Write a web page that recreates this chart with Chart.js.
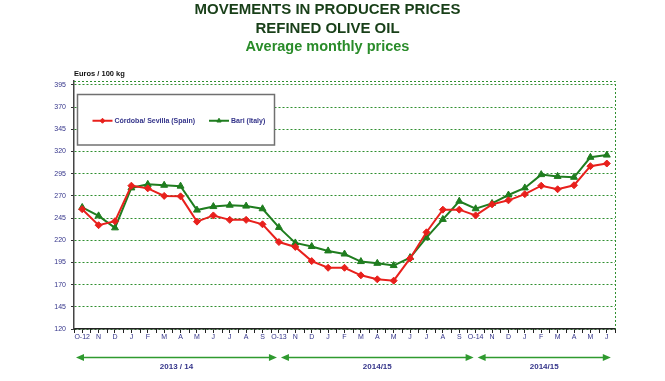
<!DOCTYPE html>
<html>
<head>
<meta charset="utf-8">
<script src="https://cdn.jsdelivr.net/npm/chart.js@4.4.0/dist/chart.umd.min.js"></script>
<style>
  html, body { margin: 0; padding: 0; background: #fff; }
  #wrap { width: 665px; height: 381px; position: relative; }
</style>
</head>
<body>
<div id="wrap"><canvas id="chart"></canvas></div>
<script>
'use strict';

// month labels, Oct 2012 .. Jun 2015
const months = ['O-12', 'N', 'D', 'J', 'F', 'M', 'A', 'M', 'J', 'J', 'A', 'S',
    'O-13', 'N', 'D', 'J', 'F', 'M', 'A', 'M', 'J', 'J', 'A', 'S',
    'O-14', 'N', 'D', 'J', 'F', 'M', 'A', 'M', 'J'];

// Euros / 100 kg
const cordobaSevilla = [255, 237, 241.5, 281.5, 278.5, 270, 269.5, 241, 248, 243, 243, 238,
    218, 212.5, 196.5, 189, 189, 180.5, 176, 174.5, 199.5, 229, 254.5, 254.5,
    248, 260.5, 265, 272, 281.5, 277.5, 282, 303.5, 306.5];
const bari = [257, 247.5, 234, 279, 283, 282, 281, 254, 258, 259.5, 258.5, 255.5,
    234.5, 217, 213, 208, 204.5, 196, 194, 191.5, 200.5, 223, 243.5, 264,
    255.5, 261.5, 271, 279, 294, 292, 291, 313.5, 316];

const yTicks = [120, 145, 170, 195, 220, 245, 270, 295, 320, 345, 370, 395];

// marketing years shown under the axis (month index from / to)
const seasonLabels = ['2013 / 14', '2014/15', '2014/15'];
const seasonFrom = [0, 12, 24];
const seasonTo = [12, 24, 32];

const FONT = '"Liberation Sans", Arial, sans-serif';
const NAVY = '#34348a';
const GRID_GREEN = '#2f8f2f';
const ARROW_GREEN = '#2f9a2f';

// dashed top and right edge of the plot
const plotFrame = {
    id: 'plotFrame',
    beforeDatasetsDraw(chart) {
        const { ctx, chartArea: a } = chart;
        ctx.save();
        ctx.strokeStyle = GRID_GREEN;
        ctx.lineWidth = 1;
        ctx.setLineDash([2, 2]);
        ctx.beginPath();
        ctx.moveTo(a.left, a.top + 0.5);
        ctx.lineTo(a.right + 0.5, a.top + 0.5);
        ctx.lineTo(a.right + 0.5, a.bottom);
        ctx.stroke();
        ctx.restore();
    }
};

// half-step tick marks between months
const halfTicks = {
    id: 'halfTicks',
    afterDraw(chart) {
        const { ctx, chartArea: a } = chart;
        const x = chart.scales.x;
        ctx.save();
        ctx.strokeStyle = '#222';
        ctx.lineWidth = 1;
        for (let i = 0; i <= months.length; i++) {
            const px = Math.round(x.getPixelForValue(i - 0.5)) + 0.5;
            ctx.beginPath();
            ctx.moveTo(px, a.bottom);
            ctx.lineTo(px, a.bottom + 4);
            ctx.stroke();
        }
        ctx.restore();
    }
};

// boxed legend inside the plot
const legendBox = {
    id: 'legendBox',
    afterDatasetsDraw(chart) {
        const { ctx, chartArea: a } = chart;
        const bx = a.left + 3.5, by = a.top + 13.5, bw = 197, bh = 50.5;
        ctx.save();
        ctx.fillStyle = '#fff';
        ctx.fillRect(bx, by, bw, bh);
        ctx.strokeStyle = '#707070';
        ctx.lineWidth = 1.5;
        ctx.strokeRect(bx, by, bw, bh);

        ctx.font = 'bold 7px ' + FONT;
        ctx.textBaseline = 'middle';
        const cy = by + bh / 2 + 1;
        let cx = bx + 15;
        chart.data.datasets.forEach(ds => {
            ctx.strokeStyle = ds.borderColor;
            ctx.fillStyle = ds.backgroundColor;
            ctx.lineWidth = 2;
            ctx.beginPath();
            ctx.moveTo(cx, cy);
            ctx.lineTo(cx + 20, cy);
            ctx.stroke();
            ctx.lineWidth = 1;
            Chart.helpers.drawPoint(ctx, { pointStyle: ds.pointStyle, radius: 2.5, borderWidth: 1 }, cx + 10, cy);
            ctx.fillStyle = NAVY;
            ctx.fillText(ds.label, cx + 22, cy);
            cx += 22 + ctx.measureText(ds.label).width + 14;
        });
        ctx.restore();
    }
};

// unit label and season arrows
const extras = {
    id: 'extras',
    afterDraw(chart) {
        const { ctx, chartArea: a } = chart;
        const x = chart.scales.x;
        ctx.save();
        ctx.fillStyle = '#111';
        ctx.font = 'bold 7.5px ' + FONT;
        ctx.textBaseline = 'middle';
        ctx.fillText('Euros / 100 kg', a.left, a.top - 7.5);

        const ay = a.bottom + 28.5;
        seasonLabels.forEach((label, i) => {
            let x0 = x.getPixelForValue(seasonFrom[i]) + 2;
            let x1 = x.getPixelForValue(seasonTo[i]) - 2;
            if (i === 0) x0 = a.left + 2;
            if (i === seasonLabels.length - 1) x1 = Math.min(x1 + 6, a.right - 4);
            ctx.strokeStyle = ARROW_GREEN;
            ctx.fillStyle = ARROW_GREEN;
            ctx.lineWidth = 1.5;
            ctx.beginPath();
            ctx.moveTo(x0 + 4, ay);
            ctx.lineTo(x1 - 4, ay);
            ctx.stroke();
            ctx.beginPath();
            ctx.moveTo(x0, ay);
            ctx.lineTo(x0 + 8, ay - 3.5);
            ctx.lineTo(x0 + 8, ay + 3.5);
            ctx.closePath();
            ctx.fill();
            ctx.beginPath();
            ctx.moveTo(x1, ay);
            ctx.lineTo(x1 - 8, ay - 3.5);
            ctx.lineTo(x1 - 8, ay + 3.5);
            ctx.closePath();
            ctx.fill();

            ctx.fillStyle = NAVY;
            ctx.font = 'bold 8px ' + FONT;
            ctx.textAlign = 'center';
            ctx.fillText(label, (x0 + x1) / 2, ay + 9);
            ctx.textAlign = 'left';
        });
        ctx.restore();
    }
};

new Chart(document.getElementById('chart'), {
    type: 'line',
    data: {
        labels: months,
        datasets: [
            {
                label: 'Córdoba/ Sevilla (Spain)',
                data: cordobaSevilla,
                borderColor: '#e8201c',
                backgroundColor: '#e8201c',
                borderWidth: 2,
                pointStyle: 'rectRot',
                pointRadius: 3.5,
                pointBorderWidth: 1,
                tension: 0
            },
            {
                label: 'Bari (Italy)',
                data: bari,
                borderColor: '#1f7d1f',
                backgroundColor: '#1f7d1f',
                borderWidth: 2,
                pointStyle: 'triangle',
                pointRadius: 4,
                pointBorderWidth: 1,
                tension: 0
            }
        ]
    },
    options: {
        responsive: true,
        maintainAspectRatio: false,
        animation: false,
        layout: { padding: { left: 0, right: 10, top: 0, bottom: 0 } },
        plugins: {
            legend: { display: false },
            tooltip: { enabled: false },
            title: {
                display: true,
                text: ['MOVEMENTS IN PRODUCER PRICES', 'REFINED OLIVE OIL'],
                color: '#183f18',
                font: { family: FONT, size: 15, weight: 'bold', lineHeight: 19 / 15 },
                padding: { top: 0, bottom: 0 }
            },
            subtitle: {
                display: true,
                text: 'Average monthly prices',
                color: '#2a8c2a',
                font: { family: FONT, size: 14.5, weight: 'bold', lineHeight: 18 / 14.5 },
                padding: { top: 0, bottom: 25 }
            }
        },
        scales: {
            x: {
                offset: true,
                afterFit: axis => { axis.height = 52; },
                grid: {
                    drawOnChartArea: false,
                    tickLength: 4,
                    tickColor: '#222'
                },
                border: { color: '#222', width: 1.5 },
                ticks: {
                    autoSkip: false,
                    maxRotation: 0,
                    padding: 0,
                    color: NAVY,
                    font: { family: FONT, size: 7 }
                }
            },
            y: {
                min: 120,
                max: 399.5,
                afterBuildTicks: axis => { axis.ticks = yTicks.map(v => ({ value: v })); },
                afterFit: axis => { axis.width = 74; },
                grid: {
                    color: GRID_GREEN,
                    lineWidth: 1,
                    tickLength: 3,
                    tickColor: '#333',
                    tickBorderDash: []
                },
                border: { color: '#444', width: 1.5, dash: [2, 2] },
                ticks: {
                    padding: 5,
                    color: NAVY,
                    font: { family: FONT, size: 7 }
                }
            },
            gap: {
                position: 'right',
                afterFit: axis => { axis.width = 40; },
                ticks: { display: false },
                grid: { display: false },
                border: { display: false }
            }
        }
    },
    plugins: [plotFrame, halfTicks, legendBox, extras]
});
</script>
</body>
</html>
